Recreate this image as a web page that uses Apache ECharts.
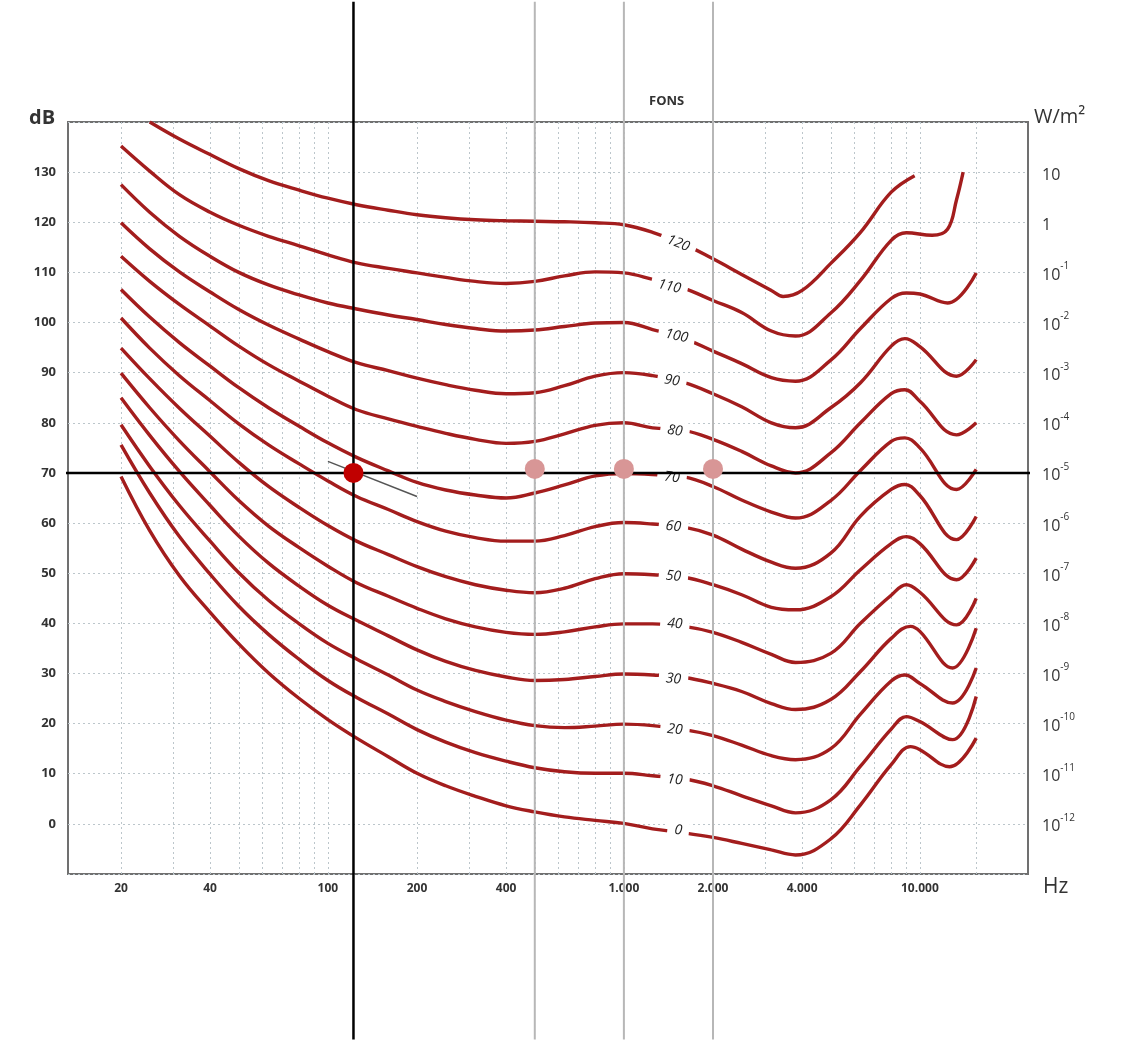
<!DOCTYPE html>
<html>
<head>
<meta charset="utf-8">
<title>Fons</title>
<script src="https://cdn.jsdelivr.net/npm/echarts@6/dist/echarts.min.js"></script>
<style>
  html, body { margin: 0; padding: 0; background: #fff; }
  #chart { width: 1133px; height: 1042px; }
</style>
</head>
<body>
<div id="chart"></div>
<script>
// frequencies (Hz) of the dotted grid and of the labelled ticks
const gridFreqs = [20, 30, 40, 50, 60, 70, 80, 90, 100, 200, 300, 400, 500, 600, 700, 800, 900,
  1000, 2000, 3000, 4000, 5000, 6000, 7000, 8000, 9000, 10000, 15500];
const tickFreqs = [20, 40, 100, 200, 400, 1000, 2000, 4000, 10000];
const tickLabels = ['20', '40', '100', '200', '400', '1.000', '2.000', '4.000', '10.000'];

const phonLevels = [0, 10, 20, 30, 40, 50, 60, 70, 80, 90, 100, 110, 120];

// curves, [Hz, dB]
const phon0 = [[20,69.3],[25,58.5],[31.5,49.5],[40,42.2],[50,35.9],[63,30.1],[80,25],[100,20.8],[125,17.1],[160,13.4],[200,10.1],[250,7.6],[315,5.5],[400,3.6],[500,2.4],[630,1.4],[800,0.7],[1000,0.1],[1250,-1],[1600,-1.8],[2000,-2.7],[2500,-3.9],[3150,-5.2],[3800,-6.2],[5000,-3],[6300,3.8],[8000,11.8],[9300,15.4],[10000,14.8],[12600,11.4],[15500,17.1]];
const phon10 = [[20,75.6],[25,66],[31.5,57.3],[40,49.8],[50,43.4],[63,37.8],[80,32.8],[100,28.6],[125,25.2],[160,21.9],[200,18.8],[250,16.3],[315,14.2],[400,12.5],[500,11.2],[630,10.4],[800,10.1],[1000,10.1],[1250,9.6],[1600,9],[2000,7.6],[2500,5.6],[3150,3.6],[3800,2.2],[5000,4.8],[6300,11.5],[8000,18.9],[9000,21.4],[10000,20.4],[12900,16.8],[15500,25.4]];
const phon20 = [[20,79.6],[25,71.3],[31.5,63.5],[40,56.4],[50,50.1],[63,44.6],[80,39.9],[100,36],[125,32.9],[160,29.7],[200,26.7],[250,24.4],[315,22.4],[400,20.7],[500,19.6],[630,19.2],[800,19.5],[1000,19.9],[1250,19.6],[1600,18.8],[2000,17.6],[2500,15.7],[3150,13.6],[3800,12.8],[5000,15],[6300,21.9],[8000,28.5],[8900,29.7],[10000,28],[12900,24.1],[15500,31.1]];
const phon30 = [[20,85],[25,77.5],[31.5,70.3],[40,63.5],[50,57.4],[63,52],[80,47.4],[100,43.6],[125,40.6],[160,37.5],[200,34.7],[250,32.4],[315,30.6],[400,29.3],[500,28.6],[630,28.8],[800,29.4],[1000,29.9],[1250,29.7],[1600,29.2],[2000,28],[2500,26.4],[3150,24],[3800,22.8],[5000,24.8],[6300,30.4],[8000,37],[9300,39.4],[10000,38.4],[12900,31.1],[15500,39]];
const phon40 = [[20,89.9],[25,83],[31.5,76.4],[40,70.2],[50,64.5],[63,59.4],[80,55.1],[100,51.4],[125,48.1],[160,45.4],[200,43],[250,40.9],[315,39.3],[400,38.2],[500,37.8],[630,38.3],[800,39.3],[1000,39.9],[1250,39.9],[1600,39.4],[2000,38.2],[2500,36.2],[3150,33.8],[3800,32.2],[5000,34],[6300,40],[8000,45.6],[9000,47.7],[10000,46.2],[13300,39.7],[15500,45]];
const phon50 = [[20,94.9],[25,88.8],[31.5,82.9],[40,77.3],[50,72.1],[63,67.3],[80,63.1],[100,59.5],[125,56.4],[160,53.7],[200,51.3],[250,49.3],[315,47.7],[400,46.6],[500,46.1],[630,47],[800,48.9],[1000,49.9],[1250,49.7],[1600,49.2],[2000,47.7],[2500,45.7],[3150,43.2],[3800,42.7],[5000,45.3],[6300,50.7],[8000,55.9],[9000,57.3],[10000,55.9],[13300,48.7],[15500,53]];
const phon60 = [[20,100.9],[25,94.9],[31.5,89.4],[40,84.4],[50,79.8],[63,75.6],[80,71.8],[100,68.4],[125,65.3],[160,62.7],[200,60.3],[250,58.4],[315,57.1],[400,56.4],[500,56.4],[630,57.5],[800,59.3],[1000,60.1],[1250,59.8],[1600,59.2],[2000,57.6],[2500,54.8],[3150,52.2],[3800,51],[5000,54],[6300,61.4],[8000,66.7],[8900,67.7],[10000,65.5],[13300,56.7],[15500,61.3]];
const phon70 = [[20,106.6],[25,101.1],[31.5,96],[40,91.3],[50,87],[63,83],[80,79.3],[100,76],[125,73.1],[160,70.4],[200,68.1],[250,66.6],[315,65.6],[400,65],[500,66],[630,67.6],[800,69.4],[1000,69.9],[1250,69.7],[1600,69.2],[2000,67.3],[2500,64.6],[3150,62.2],[3800,61],[5000,64.5],[6300,70.5],[8000,76.3],[8900,77],[10000,75],[13300,66.7],[15500,70.7]];
const phon80 = [[20,113.2],[25,108.2],[31.5,103.6],[40,99.3],[50,95.3],[63,91.6],[80,88.3],[100,85.3],[125,82.6],[160,80.8],[200,79.3],[250,77.9],[315,76.7],[400,75.9],[500,76.3],[630,77.8],[800,79.5],[1000,80],[1250,79],[1600,78.5],[2000,76.7],[2500,74.3],[3150,71.4],[3800,70],[5000,74],[6300,80],[8000,85.8],[8900,86.6],[10000,84.3],[13300,77.6],[15500,80]];
const phon90 = [[20,119.9],[25,114.7],[31.5,110.1],[40,106.1],[50,102.6],[63,99.5],[80,96.7],[100,94.2],[125,92],[160,90.4],[200,88.9],[250,87.6],[315,86.5],[400,85.8],[500,86],[630,87.4],[800,89.3],[1000,90],[1250,89.4],[1600,88],[2000,85.8],[2500,83.2],[3150,80],[3800,79],[5000,83],[6300,88],[8000,95.3],[8900,96.8],[10000,95.2],[13300,89.3],[15500,92.6]];
const phon100 = [[20,127.5],[25,122],[31.5,117.2],[40,113.2],[50,110],[63,107.5],[80,105.5],[100,103.9],[125,102.7],[160,101.5],[200,100.6],[250,99.6],[315,98.8],[400,98.3],[500,98.5],[630,99.2],[800,99.9],[1000,100],[1250,98.6],[1600,96.8],[2000,94.3],[2500,91.8],[3150,89],[3800,88.3],[5000,92.5],[6300,98.8],[8000,104.8],[9000,105.9],[10000,105.7],[12400,103.9],[15500,109.9]];
const phon110 = [[20,135.2],[25,130.2],[31.5,125.5],[40,122],[50,119.4],[63,117.2],[80,115.3],[100,113.5],[125,111.9],[160,110.8],[200,109.9],[250,109],[315,108.2],[400,107.8],[500,108.2],[630,109.3],[800,110.1],[1000,109.9],[1250,108.6],[1600,106.8],[2000,104.4],[2500,102],[3150,98.3],[3800,97.3],[5000,101.9],[6300,108.4],[8000,116.4],[9000,117.9],[11000,117.4],[12400,118.6],[13300,124.5],[14000,130]];
const phon120 = [[25,140],[31.5,136.6],[40,133.5],[50,130.7],[63,128.3],[80,126.4],[100,124.8],[125,123.5],[160,122.4],[200,121.5],[250,120.9],[315,120.5],[400,120.3],[500,120.2],[630,120.1],[800,119.9],[1000,119.5],[1250,118],[1600,115.6],[2000,112.7],[2500,109.6],[3150,106.4],[3450,105.2],[4000,106.4],[5000,111.8],[6300,118],[8000,126],[9600,129.3]];
const curves = [phon0, phon10, phon20, phon30, phon40, phon50, phon60, phon70, phon80, phon90, phon100, phon110, phon120];

// where the phon numbers sit on each curve
const labelFreqs = [1526, 1487, 1487, 1470, 1487, 1470, 1470, 1453, 1487, 1453, 1507, 1424, 1526];
const labelDb = [-1.3, 8.8, 18.8, 28.9, 39.9, 49.4, 59.3, 69.1, 78.4, 88.4, 97.3, 107.2, 115.8];
const labelTilt = [-7, -6, -6, -5, -4, -5, -6, -7, -8, -10, -12, -13, -22];

// overlay: marked point, reference frequencies, tangent
const markFreq = 122;
const markDb = 70;
const refFreqs = [500, 1000, 2000];
const refDb = 70.8;
const tangentLine = [[100, 72.3], [200, 65.3]];
const spanDb = [-43, 164];
const spanFreq = [8.4, 52500];

const chart = echarts.init(document.getElementById('chart'));

function tickText(v) {
  for (let i = 0; i < tickFreqs.length; i++) {
    if (Math.abs(tickFreqs[i] - v) / tickFreqs[i] < 0.01) return tickLabels[i];
  }
  return '';
}

const font = 'Open Sans';
const series = [];

curves.forEach(function (c, i) {
  series.push({
    name: phonLevels[i] + ' fons',
    type: 'line',
    data: c,
    smooth: 0.4,
    showSymbol: false,
    symbol: 'none',
    z: 3,
    lineStyle: { color: '#a31d1d', width: 3.4 }
  });
});

// phon numbers, white box cuts the curve
series.push({
  type: 'scatter',
  z: 5,
  symbolSize: 1,
  itemStyle: { color: '#fff', opacity: 1 },
  data: labelFreqs.map(function (f, i) {
    return { value: [f, labelDb[i]], label: { rotate: labelTilt[i] } };
  }),
  label: {
    show: true,
    position: 'inside',
    formatter: function (p) { return String(phonLevels[p.dataIndex]); },
    backgroundColor: '#fff',
    opacity: 1,
    padding: [2, 7],
    fontFamily: font,
    fontStyle: 'italic',
    fontSize: 14,
    color: '#1e1e1e'
  }
});

function overlayLine(data, color, width) {
  return {
    type: 'line',
    data: data,
    clip: false,
    z: 6,
    showSymbol: false,
    symbol: 'none',
    lineStyle: { color: color, width: width }
  };
}

refFreqs.forEach(function (f) {
  series.push(overlayLine([[f, spanDb[0]], [f, spanDb[1]]], '#b7b7b7', 2));
});
series.push(overlayLine([[markFreq, spanDb[0]], [markFreq, spanDb[1]]], '#000', 2.5));
series.push(overlayLine([[spanFreq[0], markDb], [spanFreq[1], markDb]], '#000', 2.5));
series.push(overlayLine(tangentLine, '#555', 1.5));

series.push({
  type: 'scatter',
  z: 7,
  clip: false,
  symbolSize: 20,
  itemStyle: { color: '#d89696', opacity: 1 },
  data: refFreqs.map(function (f) { return [f, refDb]; })
});
series.push({
  type: 'scatter',
  z: 8,
  clip: false,
  symbolSize: 20,
  itemStyle: { color: '#c00000', opacity: 1 },
  data: [[markFreq, markDb]]
});

chart.setOption({
  animation: false,
  backgroundColor: '#fff',
  title: [
    { text: 'dB', left: 29, top: 108, padding: 0, textStyle: { fontFamily: font, fontSize: 20, fontWeight: 'bold', color: '#333' } },
    { text: 'FONS', left: 649, top: 95, padding: 0, textStyle: { fontFamily: font, fontSize: 13, fontWeight: 'bold', color: '#333' } },
    { text: 'W/m²', left: 1034, top: 107, padding: 0, textStyle: { fontFamily: font, fontSize: 20, fontWeight: 'normal', color: '#333' } },
    { text: 'Hz', left: 1043, top: 877, padding: 0, textStyle: { fontFamily: font, fontSize: 21, fontWeight: 'normal', color: '#333' } }
  ],
  grid: {
    left: 68, right: 105, top: 122, bottom: 168,
    show: true,
    backgroundColor: '#fff',
    borderColor: '#707070',
    borderWidth: 2,
    outerBoundsMode: 'none'
  },
  xAxis: {
    type: 'log',
    logBase: 10,
    min: 13.24,
    max: 23190,
    axisLine: { show: false },
    axisTick: { show: false, customValues: gridFreqs },
    splitLine: { show: true, lineStyle: { type: [2, 3], color: '#bcc6cb', width: 1 } },
    axisLabel: {
      customValues: tickFreqs,
      formatter: tickText,
      margin: 9,
      fontFamily: font,
      fontSize: 12,
      fontWeight: 'bold',
      color: '#333'
    }
  },
  yAxis: [
    {
      type: 'value',
      min: -10,
      max: 140,
      interval: 10,
      axisLine: { show: false },
      axisTick: { show: false },
      splitLine: { show: true, lineStyle: { type: [2, 3], color: '#bcc6cb', width: 1 } },
      axisLabel: {
        formatter: function (v) { return (v < 0 || v > 130) ? '' : String(v); },
        margin: 12,
        fontFamily: font,
        fontSize: 13,
        fontWeight: 'bold',
        color: '#333'
      }
    },
    {
      type: 'value',
      position: 'right',
      min: -10,
      max: 140,
      interval: 10,
      axisLine: { show: false },
      axisTick: { show: false },
      splitLine: { show: false },
      axisLabel: {
        margin: 14,
        formatter: function (v) {
          if (v < 0 || v > 130) return '';
          const e = Math.round((v - 120) / 10);
          if (e === 1) return '{b|10}';
          if (e === 0) return '{b|1}';
          return '{b|10}{s|' + e + '}';
        },
        rich: {
          b: { fontFamily: font, fontSize: 16, color: '#333', lineHeight: 22, verticalAlign: 'bottom' },
          s: { fontFamily: font, fontSize: 10, color: '#333', lineHeight: 12, verticalAlign: 'top' }
        }
      }
    }
  ],
  series: series
});

window.addEventListener('resize', function () {
  chart.resize();
});
</script>
</body>
</html>
